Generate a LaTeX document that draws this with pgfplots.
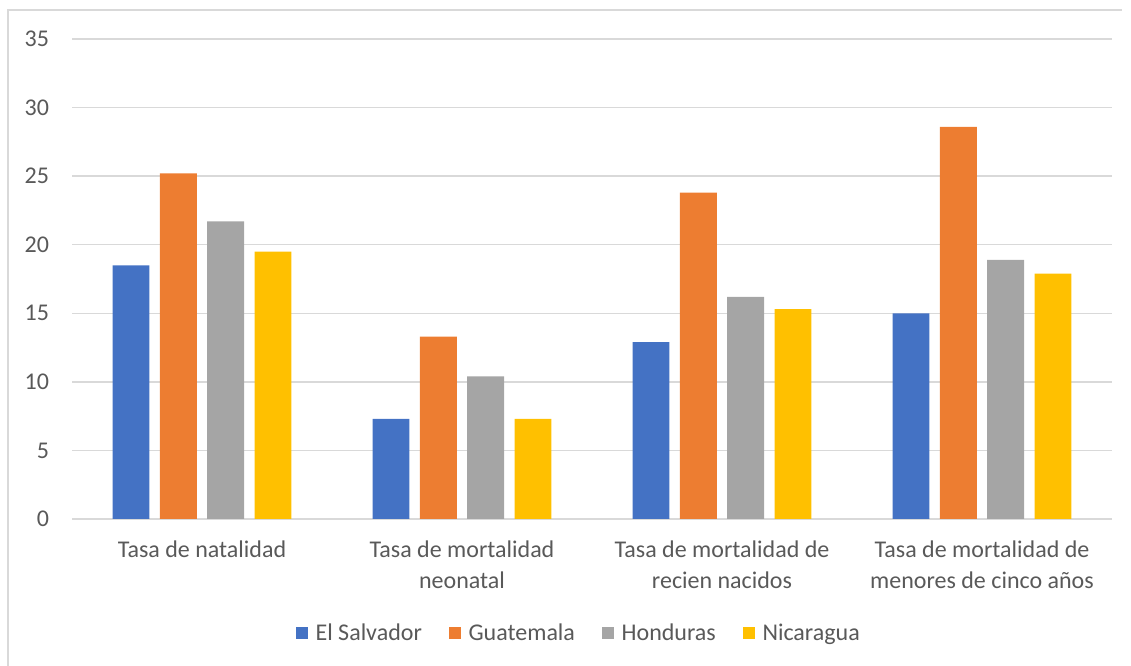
\documentclass[border=0pt]{standalone}
\usepackage{fontspec}
\setmainfont{Carlito}
\usepackage{pgfplots}
\pgfplotsset{compat=1.18}
\definecolor{cblue}{HTML}{4472C4}
\definecolor{corange}{HTML}{ED7D31}
\definecolor{cgray}{HTML}{A5A5A5}
\definecolor{cyellow}{HTML}{FFC000}
\definecolor{cgrid}{HTML}{D9D9D9}
\definecolor{ctext}{HTML}{595959}
\begin{document}
\begin{tikzpicture}[font=\fontsize{18}{22}\selectfont]
\path[use as bounding box] (0,0) rectangle (848.25pt,499.5pt);
\draw[cgrid, line width=1pt] (6pt,0) -- (6pt,492pt) -- (841.5pt,492pt);
\begin{axis}[
  at={(54pt,110.25pt)}, anchor=south west,
  scale only axis, width=780pt, height=360pt,
  xmin=-0.5, xmax=3.5, ymin=0, ymax=35,
  ytick={0,5,...,35},
  xtick={0,1,2,3},
  xticklabels={Tasa de natalidad, {Tasa de mortalidad\\neonatal}, {Tasa de mortalidad de\\recien nacidos}, {Tasa de mortalidad de\\menores de cinco años}},
  xticklabel style={align=center, inner sep=0pt, anchor=north, yshift=-16pt, text=ctext, font=\fontsize{18}{23.5}\selectfont},
  yticklabel style={inner sep=0pt, anchor=east, xshift=-17pt, text=ctext},
  /pgf/number format/assume math mode=true,
  major tick length=0pt,
  axis line style={draw=none},
  ymajorgrids, grid style={cgrid, line width=1pt},
  ybar, bar width=0.142,
  legend style={at={(0.4875,-0.2375)}, anchor=center, draw=none, legend columns=4, text=ctext,
    /tikz/every even column/.append style={column sep=18pt},
    /tikz/every odd column/.append style={column sep=4pt}},
  legend image code/.code={\fill[#1] (0pt,-4.5pt) rectangle (9pt,4.5pt);},
]
\addplot[fill=cblue, draw=none, bar shift=-0.273] coordinates {(0,18.5) (1,7.3) (2,12.9) (3,15.0)};
\addplot[fill=corange, draw=none, bar shift=-0.091] coordinates {(0,25.2) (1,13.3) (2,23.8) (3,28.6)};
\addplot[fill=cgray, draw=none, bar shift=0.091] coordinates {(0,21.7) (1,10.4) (2,16.2) (3,18.9)};
\addplot[fill=cyellow, draw=none, bar shift=0.273] coordinates {(0,19.5) (1,7.3) (2,15.3) (3,17.9)};
\legend{El Salvador, Guatemala, Honduras, Nicaragua}
\end{axis}
\end{tikzpicture}
\end{document}
